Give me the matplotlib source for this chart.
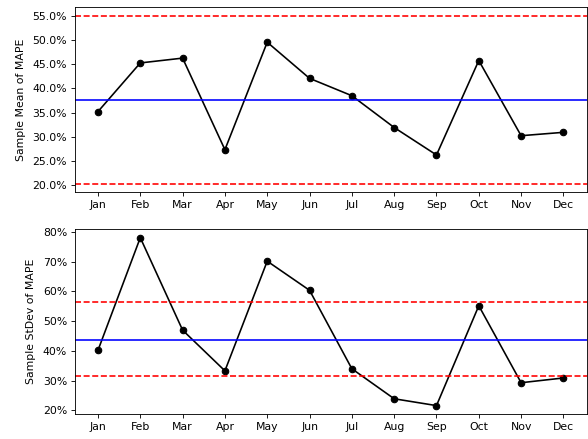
import numpy as np
import matplotlib
matplotlib.use("Agg")
import matplotlib.pyplot as plt
from matplotlib.ticker import PercentFormatter

months = ["Jan", "Feb", "Mar", "Apr", "May", "Jun",
          "Jul", "Aug", "Sep", "Oct", "Nov", "Dec"]

# monthly sample mean / stdev of MAPE (fractions)
mean_mape = [0.352, 0.453, 0.463, 0.273, 0.496, 0.421,
             0.385, 0.319, 0.262, 0.458, 0.302, 0.309]
std_mape = [0.402, 0.781, 0.470, 0.333, 0.702, 0.604,
            0.340, 0.239, 0.216, 0.552, 0.293, 0.309]

# control limits
mean_center, mean_ucl, mean_lcl = 0.376, 0.551, 0.202
std_center, std_ucl, std_lcl = 0.437, 0.563, 0.315

DPI = 78
fig = plt.figure(figsize=(588 / DPI, 439 / DPI), dpi=DPI)
ax1 = fig.add_axes([74.7 / 588, 1 - 192.3 / 439, 512 / 588, 185 / 439])
ax2 = fig.add_axes([74.7 / 588, 1 - 414 / 439, 512 / 588, 184.7 / 439])

x = np.arange(len(months))

for ax, vals, c, u, l, lab in [
    (ax1, mean_mape, mean_center, mean_ucl, mean_lcl, "Sample Mean of MAPE"),
    (ax2, std_mape, std_center, std_ucl, std_lcl, "Sample StDev of MAPE"),
]:
    ax.plot(x, vals, color="k", marker="o")
    ax.axhline(c, color="b")
    ax.axhline(u, color="r", linestyle="--")
    ax.axhline(l, color="r", linestyle="--")
    ax.set_xticks(x)
    ax.set_xticklabels(months)
    ax.yaxis.set_major_formatter(PercentFormatter(1))
    ax.set_ylabel(lab, labelpad=6)

fig.savefig("out.png", dpi=DPI)
